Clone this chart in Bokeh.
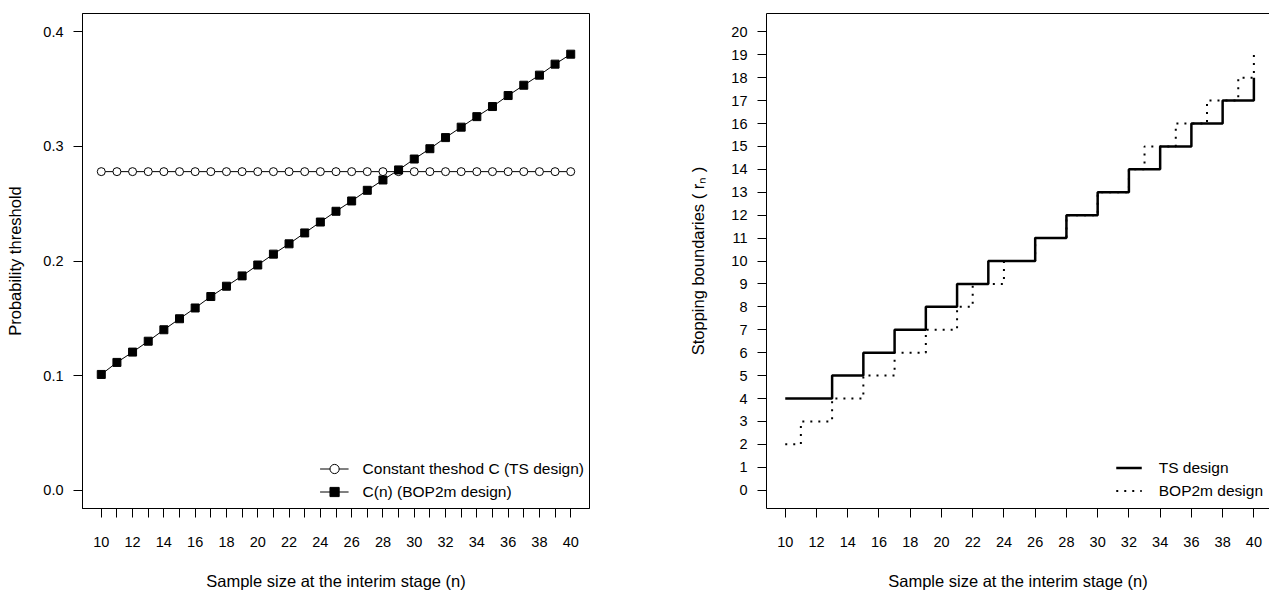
from bokeh.plotting import figure
from bokeh.layouts import row
from bokeh.models import (FixedTicker, PrintfTickFormatter, Legend, LegendItem,
                          Range1d, LinearAxis)
from bokeh.embed import file_html
from bokeh.resources import INLINE

# ---------------- data ----------------
n = list(range(10, 41))
c_constant = [0.278] * 31
c_n = [0.101, 0.1115, 0.1205, 0.130, 0.140, 0.1496, 0.159, 0.169, 0.178, 0.187,
       0.1965, 0.206, 0.215, 0.2245, 0.234, 0.2434, 0.2524, 0.2617, 0.2707, 0.2795,
       0.289, 0.298, 0.3077, 0.3168, 0.326, 0.3348, 0.3444, 0.3534, 0.3622, 0.3718,
       0.3805]
ts_design = [4, 4, 4, 5, 5, 6, 6, 7, 7, 8, 8, 9, 9, 10, 10, 10, 11, 11, 12, 12,
             13, 13, 14, 14, 15, 15, 16, 16, 17, 17, 18]
bop2m_design = [2, 3, 3, 4, 4, 5, 5, 6, 6, 7, 7, 8, 9, 9, 10, 10, 11, 11, 12, 12,
                13, 13, 14, 15, 15, 16, 16, 17, 17, 18, 19]
left_y_ticks = [0.0, 0.1, 0.2, 0.3, 0.4]
left_x_ticks = list(range(10, 41))
right_x_ticks = list(range(10, 41, 2))
right_y_ticks = list(range(0, 21))

FONT = "Liberation Sans"
TICK_FS = "14.5px"
TITLE_FS = "16.5px"
LEGEND_FS = "15.5px"


def style_axis(ax):
    ax.axis_line_color = "black"
    ax.axis_line_width = 1
    ax.major_tick_line_color = "black"
    ax.major_tick_out = 9
    ax.major_tick_in = 0
    ax.minor_tick_line_color = None
    ax.major_label_text_font = FONT
    ax.major_label_text_font_size = TICK_FS
    ax.major_label_text_color = "black"
    ax.axis_label_text_font = FONT
    ax.axis_label_text_font_size = TITLE_FS
    ax.axis_label_text_font_style = "normal"
    ax.axis_label_text_color = "black"


# ---------------- left panel ----------------
p1 = figure(width=682, height=595, x_range=Range1d(8.8, 41.2),
            y_range=Range1d(-0.016, 0.416), output_backend="svg",
            toolbar_location=None, min_border_left=82, min_border_right=93,
            min_border_top=13, min_border_bottom=87)
p1.grid.visible = False
p1.outline_line_color = "black"
p1.outline_line_width = 1
for ax in p1.axis:
    style_axis(ax)
p1.yaxis.ticker = FixedTicker(ticks=left_y_ticks)
p1.yaxis.formatter = PrintfTickFormatter(format="%.1f")
p1.yaxis.major_label_standoff = 10
p1.yaxis.axis_label = "Probability threshold"
p1.yaxis.axis_label_standoff = 16
p1.xaxis.ticker = FixedTicker(ticks=left_x_ticks)
p1.xaxis.major_label_overrides = {k: "" for k in left_x_ticks if k % 2 == 1}
p1.xaxis.major_label_standoff = 19
p1.xaxis.axis_label = "Sample size at the interim stage (n)"
p1.xaxis.axis_label_standoff = 22

l1 = p1.line(n, c_constant, line_color="black", line_width=1)
s1 = p1.scatter(n, c_constant, marker="circle", size=8, fill_color="white",
                line_color="black", line_width=1)
l2 = p1.line(n, c_n, line_color="black", line_width=1)
s2 = p1.scatter(n, c_n, marker="square", size=8, fill_color="black",
                line_color="black")

leg1 = Legend(items=[LegendItem(label="Constant theshod C (TS design)", renderers=[l1, s1]),
                     LegendItem(label="C(n) (BOP2m design)", renderers=[l2, s2])],
              location="bottom_right", border_line_color=None,
              background_fill_alpha=0, padding=2, margin=5, spacing=0,
              glyph_width=29, glyph_height=23, label_height=23,
              label_standoff=14, label_text_font=FONT, label_text_font_size=LEGEND_FS,
              label_text_color="black")
p1.add_layout(leg1)

# ---------------- right panel ----------------
p2 = figure(width=587, height=595, x_range=Range1d(8.8, 41.0),
            y_range=Range1d(-0.8, 20.8), output_backend="svg",
            toolbar_location=None, min_border_left=84, min_border_right=0,
            min_border_top=11, min_border_bottom=87)
p2.grid.visible = False
p2.outline_line_color = None
for ax in p2.axis:
    style_axis(ax)
p2.yaxis.ticker = FixedTicker(ticks=right_y_ticks)
p2.yaxis.major_label_standoff = 10
p2.yaxis.axis_label = "Stopping boundaries ( r\u2099 )"
p2.yaxis.axis_label_standoff = 21
p2.xaxis.ticker = FixedTicker(ticks=right_x_ticks)
p2.xaxis.major_label_standoff = 19
p2.xaxis.axis_label = "Sample size at the interim stage (n)"
p2.xaxis.axis_label_standoff = 22

top_axis = LinearAxis(ticker=FixedTicker(ticks=[]), axis_line_color="black",
                      major_tick_out=0, major_tick_in=0, major_label_standoff=0,
                      minor_tick_line_color=None, major_tick_line_color=None)
p2.add_layout(top_axis, "above")

r_bop = p2.step(n, bop2m_design, mode="after", line_color="black",
                line_width=2, line_dash="2 6")
r_ts = p2.step(n, ts_design, mode="after", line_color="black", line_width=2.5)

leg2 = Legend(items=[LegendItem(label="TS design", renderers=[r_ts]),
                     LegendItem(label="BOP2m design", renderers=[r_bop])],
              location="bottom_right", border_line_color=None,
              background_fill_alpha=0, padding=2, margin=6, spacing=0,
              glyph_width=26, glyph_height=23, label_height=23,
              label_standoff=17, label_text_font=FONT, label_text_font_size=LEGEND_FS,
              label_text_color="black")
p2.add_layout(leg2)

layout = row(p1, p2)
open("out.html", "w").write(file_html(layout, INLINE))
